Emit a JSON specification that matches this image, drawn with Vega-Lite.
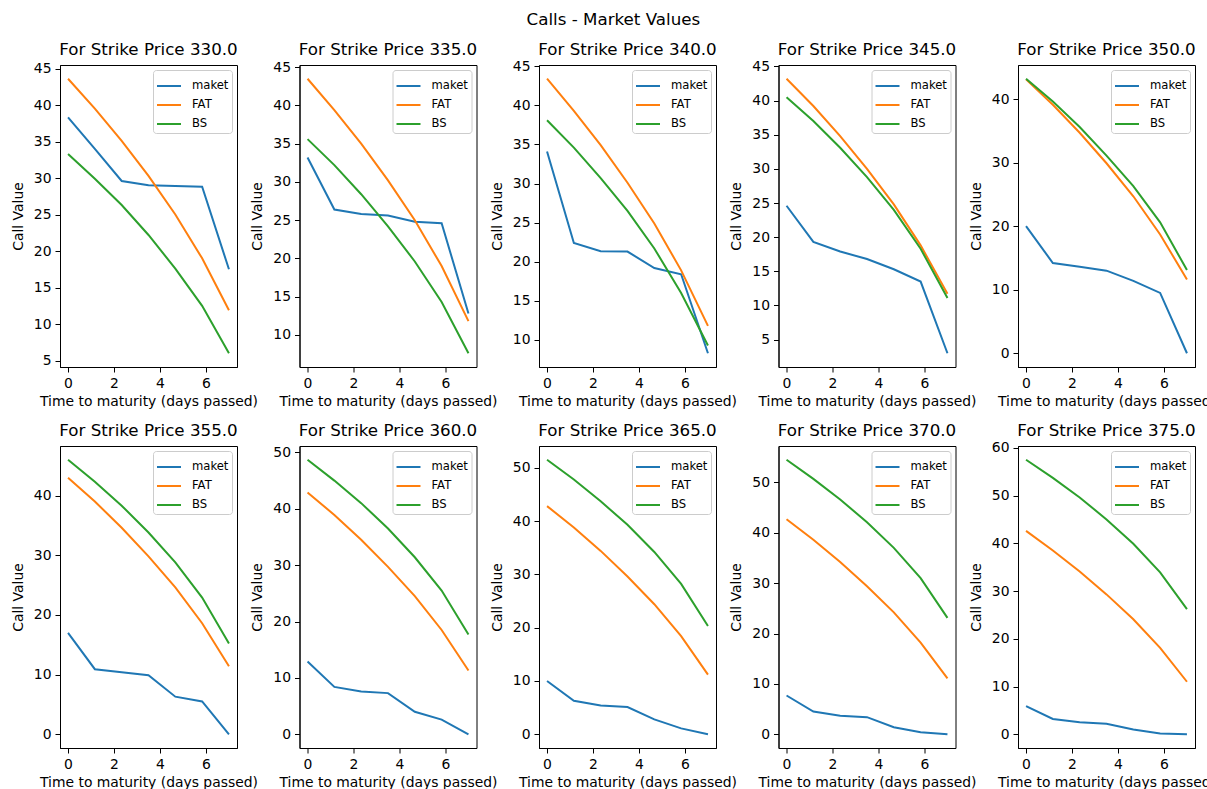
{
  "$schema": "https://vega.github.io/schema/vega-lite/v6.json",
  "padding": {"left": 10, "top": 12, "right": 5, "bottom": 5},
  "background": "white",
  "title": {"text": "Calls - Market Values", "fontSize": 16.7, "font": "DejaVu Sans", "fontWeight": "normal", "color": "black", "anchor": "middle", "offset": 13, "frame": "bounds"},
  "columns": 5,
  "spacing": {"row": 79, "column": 62.5},
  "bounds": "flush",
  "resolve": {"legend": {"color": "independent"}, "scale": {"y": "independent", "x": "independent"}},
  "config": {
    "font": "DejaVu Sans",
    "view": {"stroke": "black", "strokeWidth": 1},
    "title": {"font": "DejaVu Sans", "fontSize": 16.7, "fontWeight": "normal", "color": "black", "offset": 6, "frame": "group"},
    "axis": {"grid": false, "domainColor": "black", "tickColor": "black", "tickSize": 5, "labelFont": "DejaVu Sans", "labelFontSize": 13.9, "labelColor": "black", "titleFont": "DejaVu Sans", "titleFontSize": 13.9, "titleFontWeight": "normal", "titleColor": "black", "labelPadding": 4, "titlePadding": 5, "labelFlush": false},
    "axisY": {"titlePadding": 8},
    "legend": {"orient": "top-right", "offset": 5, "fillColor": "white", "strokeColor": "#cccccc", "cornerRadius": 3, "padding": 3, "labelFont": "DejaVu Sans", "labelFontSize": 11.6, "labelColor": "black", "labelOffset": 10, "symbolType": "stroke", "symbolSize": 576, "symbolStrokeWidth": 2, "rowPadding": 0}
  },
  "datasets": {
    "calls": [
      {"k":330,"m":"maket","t":0,"v":38.3},{"k":330,"m":"maket","t":1.1667,"v":34.0},{"k":330,"m":"maket","t":2.3333,"v":29.6},{"k":330,"m":"maket","t":3.5,"v":29.0},{"k":330,"m":"maket","t":4.6667,"v":28.9},{"k":330,"m":"maket","t":5.8333,"v":28.8},{"k":330,"m":"maket","t":7,"v":17.5},
      {"k":330,"m":"FAT","t":0,"v":43.6},{"k":330,"m":"FAT","t":1.1667,"v":39.5},{"k":330,"m":"FAT","t":2.3333,"v":35.1},{"k":330,"m":"FAT","t":3.5,"v":30.3},{"k":330,"m":"FAT","t":4.6667,"v":25.0},{"k":330,"m":"FAT","t":5.8333,"v":19.0},{"k":330,"m":"FAT","t":7,"v":11.9},
      {"k":330,"m":"BS","t":0,"v":33.3},{"k":330,"m":"BS","t":1.1667,"v":29.9},{"k":330,"m":"BS","t":2.3333,"v":26.3},{"k":330,"m":"BS","t":3.5,"v":22.2},{"k":330,"m":"BS","t":4.6667,"v":17.6},{"k":330,"m":"BS","t":5.8333,"v":12.5},{"k":330,"m":"BS","t":7,"v":6.0},

      {"k":335,"m":"maket","t":0,"v":33.2},{"k":335,"m":"maket","t":1.1667,"v":26.4},{"k":335,"m":"maket","t":2.3333,"v":25.8},{"k":335,"m":"maket","t":3.5,"v":25.6},{"k":335,"m":"maket","t":4.6667,"v":24.8},{"k":335,"m":"maket","t":5.8333,"v":24.6},{"k":335,"m":"maket","t":7,"v":12.8},
      {"k":335,"m":"FAT","t":0,"v":43.5},{"k":335,"m":"FAT","t":1.1667,"v":39.4},{"k":335,"m":"FAT","t":2.3333,"v":35.0},{"k":335,"m":"FAT","t":3.5,"v":30.2},{"k":335,"m":"FAT","t":4.6667,"v":25.0},{"k":335,"m":"FAT","t":5.8333,"v":19.0},{"k":335,"m":"FAT","t":7,"v":11.8},
      {"k":335,"m":"BS","t":0,"v":35.6},{"k":335,"m":"BS","t":1.1667,"v":32.2},{"k":335,"m":"BS","t":2.3333,"v":28.4},{"k":335,"m":"BS","t":3.5,"v":24.2},{"k":335,"m":"BS","t":4.6667,"v":19.6},{"k":335,"m":"BS","t":5.8333,"v":14.3},{"k":335,"m":"BS","t":7,"v":7.6},

      {"k":340,"m":"maket","t":0,"v":34.1},{"k":340,"m":"maket","t":1.1667,"v":22.4},{"k":340,"m":"maket","t":2.3333,"v":21.35},{"k":340,"m":"maket","t":3.5,"v":21.3},{"k":340,"m":"maket","t":4.6667,"v":19.2},{"k":340,"m":"maket","t":5.8333,"v":18.4},{"k":340,"m":"maket","t":7,"v":8.3},
      {"k":340,"m":"FAT","t":0,"v":43.4},{"k":340,"m":"FAT","t":1.1667,"v":39.3},{"k":340,"m":"FAT","t":2.3333,"v":34.9},{"k":340,"m":"FAT","t":3.5,"v":30.1},{"k":340,"m":"FAT","t":4.6667,"v":24.9},{"k":340,"m":"FAT","t":5.8333,"v":18.9},{"k":340,"m":"FAT","t":7,"v":11.8},
      {"k":340,"m":"BS","t":0,"v":38.1},{"k":340,"m":"BS","t":1.1667,"v":34.6},{"k":340,"m":"BS","t":2.3333,"v":30.7},{"k":340,"m":"BS","t":3.5,"v":26.5},{"k":340,"m":"BS","t":4.6667,"v":21.7},{"k":340,"m":"BS","t":5.8333,"v":16.0},{"k":340,"m":"BS","t":7,"v":9.3},

      {"k":345,"m":"maket","t":0,"v":24.6},{"k":345,"m":"maket","t":1.1667,"v":19.3},{"k":345,"m":"maket","t":2.3333,"v":17.9},{"k":345,"m":"maket","t":3.5,"v":16.8},{"k":345,"m":"maket","t":4.6667,"v":15.3},{"k":345,"m":"maket","t":5.8333,"v":13.5},{"k":345,"m":"maket","t":7,"v":3.0},
      {"k":345,"m":"FAT","t":0,"v":43.2},{"k":345,"m":"FAT","t":1.1667,"v":39.2},{"k":345,"m":"FAT","t":2.3333,"v":34.8},{"k":345,"m":"FAT","t":3.5,"v":30.0},{"k":345,"m":"FAT","t":4.6667,"v":24.8},{"k":345,"m":"FAT","t":5.8333,"v":18.8},{"k":345,"m":"FAT","t":7,"v":11.7},
      {"k":345,"m":"BS","t":0,"v":40.5},{"k":345,"m":"BS","t":1.1667,"v":37.0},{"k":345,"m":"BS","t":2.3333,"v":33.1},{"k":345,"m":"BS","t":3.5,"v":28.8},{"k":345,"m":"BS","t":4.6667,"v":24.0},{"k":345,"m":"BS","t":5.8333,"v":18.3},{"k":345,"m":"BS","t":7,"v":11.1},

      {"k":350,"m":"maket","t":0,"v":20.0},{"k":350,"m":"maket","t":1.1667,"v":14.2},{"k":350,"m":"maket","t":2.3333,"v":13.6},{"k":350,"m":"maket","t":3.5,"v":13.0},{"k":350,"m":"maket","t":4.6667,"v":11.4},{"k":350,"m":"maket","t":5.8333,"v":9.5},{"k":350,"m":"maket","t":7,"v":0.0},
      {"k":350,"m":"FAT","t":0,"v":43.1},{"k":350,"m":"FAT","t":1.1667,"v":39.1},{"k":350,"m":"FAT","t":2.3333,"v":34.7},{"k":350,"m":"FAT","t":3.5,"v":29.9},{"k":350,"m":"FAT","t":4.6667,"v":24.7},{"k":350,"m":"FAT","t":5.8333,"v":18.7},{"k":350,"m":"FAT","t":7,"v":11.6},
      {"k":350,"m":"BS","t":0,"v":43.2},{"k":350,"m":"BS","t":1.1667,"v":39.6},{"k":350,"m":"BS","t":2.3333,"v":35.6},{"k":350,"m":"BS","t":3.5,"v":31.1},{"k":350,"m":"BS","t":4.6667,"v":26.3},{"k":350,"m":"BS","t":5.8333,"v":20.6},{"k":350,"m":"BS","t":7,"v":13.1},

      {"k":355,"m":"maket","t":0,"v":17.0},{"k":355,"m":"maket","t":1.1667,"v":10.9},{"k":355,"m":"maket","t":2.3333,"v":10.4},{"k":355,"m":"maket","t":3.5,"v":9.9},{"k":355,"m":"maket","t":4.6667,"v":6.3},{"k":355,"m":"maket","t":5.8333,"v":5.5},{"k":355,"m":"maket","t":7,"v":0.0},
      {"k":355,"m":"FAT","t":0,"v":43.0},{"k":355,"m":"FAT","t":1.1667,"v":39.0},{"k":355,"m":"FAT","t":2.3333,"v":34.6},{"k":355,"m":"FAT","t":3.5,"v":29.8},{"k":355,"m":"FAT","t":4.6667,"v":24.6},{"k":355,"m":"FAT","t":5.8333,"v":18.6},{"k":355,"m":"FAT","t":7,"v":11.4},
      {"k":355,"m":"BS","t":0,"v":46.0},{"k":355,"m":"BS","t":1.1667,"v":42.3},{"k":355,"m":"BS","t":2.3333,"v":38.3},{"k":355,"m":"BS","t":3.5,"v":33.8},{"k":355,"m":"BS","t":4.6667,"v":28.8},{"k":355,"m":"BS","t":5.8333,"v":22.9},{"k":355,"m":"BS","t":7,"v":15.2},

      {"k":360,"m":"maket","t":0,"v":12.9},{"k":360,"m":"maket","t":1.1667,"v":8.4},{"k":360,"m":"maket","t":2.3333,"v":7.6},{"k":360,"m":"maket","t":3.5,"v":7.3},{"k":360,"m":"maket","t":4.6667,"v":4.0},{"k":360,"m":"maket","t":5.8333,"v":2.6},{"k":360,"m":"maket","t":7,"v":0.0},
      {"k":360,"m":"FAT","t":0,"v":42.9},{"k":360,"m":"FAT","t":1.1667,"v":38.9},{"k":360,"m":"FAT","t":2.3333,"v":34.5},{"k":360,"m":"FAT","t":3.5,"v":29.7},{"k":360,"m":"FAT","t":4.6667,"v":24.5},{"k":360,"m":"FAT","t":5.8333,"v":18.5},{"k":360,"m":"FAT","t":7,"v":11.3},
      {"k":360,"m":"BS","t":0,"v":48.7},{"k":360,"m":"BS","t":1.1667,"v":45.0},{"k":360,"m":"BS","t":2.3333,"v":41.0},{"k":360,"m":"BS","t":3.5,"v":36.5},{"k":360,"m":"BS","t":4.6667,"v":31.4},{"k":360,"m":"BS","t":5.8333,"v":25.5},{"k":360,"m":"BS","t":7,"v":17.7},

      {"k":365,"m":"maket","t":0,"v":10.0},{"k":365,"m":"maket","t":1.1667,"v":6.3},{"k":365,"m":"maket","t":2.3333,"v":5.4},{"k":365,"m":"maket","t":3.5,"v":5.1},{"k":365,"m":"maket","t":4.6667,"v":2.8},{"k":365,"m":"maket","t":5.8333,"v":1.1},{"k":365,"m":"maket","t":7,"v":0.0},
      {"k":365,"m":"FAT","t":0,"v":42.8},{"k":365,"m":"FAT","t":1.1667,"v":38.8},{"k":365,"m":"FAT","t":2.3333,"v":34.4},{"k":365,"m":"FAT","t":3.5,"v":29.6},{"k":365,"m":"FAT","t":4.6667,"v":24.4},{"k":365,"m":"FAT","t":5.8333,"v":18.4},{"k":365,"m":"FAT","t":7,"v":11.2},
      {"k":365,"m":"BS","t":0,"v":51.5},{"k":365,"m":"BS","t":1.1667,"v":47.8},{"k":365,"m":"BS","t":2.3333,"v":43.7},{"k":365,"m":"BS","t":3.5,"v":39.3},{"k":365,"m":"BS","t":4.6667,"v":34.2},{"k":365,"m":"BS","t":5.8333,"v":28.2},{"k":365,"m":"BS","t":7,"v":20.3},

      {"k":370,"m":"maket","t":0,"v":7.7},{"k":370,"m":"maket","t":1.1667,"v":4.5},{"k":370,"m":"maket","t":2.3333,"v":3.7},{"k":370,"m":"maket","t":3.5,"v":3.4},{"k":370,"m":"maket","t":4.6667,"v":1.4},{"k":370,"m":"maket","t":5.8333,"v":0.4},{"k":370,"m":"maket","t":7,"v":0.0},
      {"k":370,"m":"FAT","t":0,"v":42.7},{"k":370,"m":"FAT","t":1.1667,"v":38.6},{"k":370,"m":"FAT","t":2.3333,"v":34.2},{"k":370,"m":"FAT","t":3.5,"v":29.4},{"k":370,"m":"FAT","t":4.6667,"v":24.2},{"k":370,"m":"FAT","t":5.8333,"v":18.2},{"k":370,"m":"FAT","t":7,"v":11.1},
      {"k":370,"m":"BS","t":0,"v":54.5},{"k":370,"m":"BS","t":1.1667,"v":50.7},{"k":370,"m":"BS","t":2.3333,"v":46.6},{"k":370,"m":"BS","t":3.5,"v":42.1},{"k":370,"m":"BS","t":4.6667,"v":37.0},{"k":370,"m":"BS","t":5.8333,"v":31.0},{"k":370,"m":"BS","t":7,"v":23.1},

      {"k":375,"m":"maket","t":0,"v":5.9},{"k":375,"m":"maket","t":1.1667,"v":3.2},{"k":375,"m":"maket","t":2.3333,"v":2.5},{"k":375,"m":"maket","t":3.5,"v":2.2},{"k":375,"m":"maket","t":4.6667,"v":1.0},{"k":375,"m":"maket","t":5.8333,"v":0.15},{"k":375,"m":"maket","t":7,"v":0.0},
      {"k":375,"m":"FAT","t":0,"v":42.6},{"k":375,"m":"FAT","t":1.1667,"v":38.5},{"k":375,"m":"FAT","t":2.3333,"v":34.1},{"k":375,"m":"FAT","t":3.5,"v":29.3},{"k":375,"m":"FAT","t":4.6667,"v":24.1},{"k":375,"m":"FAT","t":5.8333,"v":18.1},{"k":375,"m":"FAT","t":7,"v":11.0},
      {"k":375,"m":"BS","t":0,"v":57.5},{"k":375,"m":"BS","t":1.1667,"v":53.7},{"k":375,"m":"BS","t":2.3333,"v":49.6},{"k":375,"m":"BS","t":3.5,"v":45.0},{"k":375,"m":"BS","t":4.6667,"v":39.9},{"k":375,"m":"BS","t":5.8333,"v":33.9},{"k":375,"m":"BS","t":7,"v":26.2}
    ]
  },
  "concat": [
    {"data": {"name": "calls"}, "transform": [{"filter": "datum.k == 330"}], "title": {"text": "For Strike Price 330.0", "offset": 2.5}, "width": 177, "height": 302, "mark": {"type": "line", "strokeWidth": 2},
     "encoding": {"x": {"field": "t", "type": "quantitative", "scale": {"domain": [-0.35, 7.35], "nice": false, "zero": false}, "axis": {"values": [0, 2, 4, 6], "title": "Time to maturity (days passed)"}},
      "y": {"field": "v", "type": "quantitative", "scale": {"domain": [4.12, 45.48], "nice": false, "zero": false}, "axis": {"values": [5, 10, 15, 20, 25, 30, 35, 40, 45], "title": "Call Value"}},
      "color": {"field": "m", "type": "nominal", "scale": {"domain": ["maket", "FAT", "BS"], "range": ["#1f77b4", "#ff7f0e", "#2ca02c"]}, "legend": {"title": null}}}},
    {"data": {"name": "calls"}, "transform": [{"filter": "datum.k == 335"}], "title": {"text": "For Strike Price 335.0", "offset": 1.3}, "width": 177, "height": 302, "mark": {"type": "line", "strokeWidth": 2},
     "encoding": {"x": {"field": "t", "type": "quantitative", "scale": {"domain": [-0.35, 7.35], "nice": false, "zero": false}, "axis": {"values": [0, 2, 4, 6], "title": "Time to maturity (days passed)"}},
      "y": {"field": "v", "type": "quantitative", "scale": {"domain": [5.805, 45.295], "nice": false, "zero": false}, "axis": {"values": [10, 15, 20, 25, 30, 35, 40, 45], "title": "Call Value"}},
      "color": {"field": "m", "type": "nominal", "scale": {"domain": ["maket", "FAT", "BS"], "range": ["#1f77b4", "#ff7f0e", "#2ca02c"]}, "legend": {"title": null}}}},
    {"data": {"name": "calls"}, "transform": [{"filter": "datum.k == 340"}], "title": {"text": "For Strike Price 340.0", "offset": 0.2}, "width": 177, "height": 302, "mark": {"type": "line", "strokeWidth": 2},
     "encoding": {"x": {"field": "t", "type": "quantitative", "scale": {"domain": [-0.35, 7.35], "nice": false, "zero": false}, "axis": {"values": [0, 2, 4, 6], "title": "Time to maturity (days passed)"}},
      "y": {"field": "v", "type": "quantitative", "scale": {"domain": [6.545, 45.155], "nice": false, "zero": false}, "axis": {"values": [10, 15, 20, 25, 30, 35, 40, 45], "title": "Call Value"}},
      "color": {"field": "m", "type": "nominal", "scale": {"domain": ["maket", "FAT", "BS"], "range": ["#1f77b4", "#ff7f0e", "#2ca02c"]}, "legend": {"title": null}}}},
    {"data": {"name": "calls"}, "transform": [{"filter": "datum.k == 345"}], "title": {"text": "For Strike Price 345.0", "offset": 0.4}, "width": 177, "height": 302, "mark": {"type": "line", "strokeWidth": 2},
     "encoding": {"x": {"field": "t", "type": "quantitative", "scale": {"domain": [-0.35, 7.35], "nice": false, "zero": false}, "axis": {"values": [0, 2, 4, 6], "title": "Time to maturity (days passed)"}},
      "y": {"field": "v", "type": "quantitative", "scale": {"domain": [0.99, 45.21], "nice": false, "zero": false}, "axis": {"values": [5, 10, 15, 20, 25, 30, 35, 40, 45], "title": "Call Value"}},
      "color": {"field": "m", "type": "nominal", "scale": {"domain": ["maket", "FAT", "BS"], "range": ["#1f77b4", "#ff7f0e", "#2ca02c"]}, "legend": {"title": null}}}},
    {"data": {"name": "calls"}, "transform": [{"filter": "datum.k == 350"}], "title": {"text": "For Strike Price 350.0", "offset": 6}, "width": 177, "height": 302, "mark": {"type": "line", "strokeWidth": 2},
     "encoding": {"x": {"field": "t", "type": "quantitative", "scale": {"domain": [-0.35, 7.35], "nice": false, "zero": false}, "axis": {"values": [0, 2, 4, 6], "title": "Time to maturity (days passed)"}},
      "y": {"field": "v", "type": "quantitative", "scale": {"domain": [-2.16, 45.36], "nice": false, "zero": false}, "axis": {"values": [0, 10, 20, 30, 40], "title": "Call Value"}},
      "color": {"field": "m", "type": "nominal", "scale": {"domain": ["maket", "FAT", "BS"], "range": ["#1f77b4", "#ff7f0e", "#2ca02c"]}, "legend": {"title": null}}}},
    {"data": {"name": "calls"}, "transform": [{"filter": "datum.k == 355"}], "title": {"text": "For Strike Price 355.0", "offset": 6}, "width": 177, "height": 302, "mark": {"type": "line", "strokeWidth": 2},
     "encoding": {"x": {"field": "t", "type": "quantitative", "scale": {"domain": [-0.35, 7.35], "nice": false, "zero": false}, "axis": {"values": [0, 2, 4, 6], "title": "Time to maturity (days passed)"}},
      "y": {"field": "v", "type": "quantitative", "scale": {"domain": [-2.3, 48.3], "nice": false, "zero": false}, "axis": {"values": [0, 10, 20, 30, 40], "title": "Call Value"}},
      "color": {"field": "m", "type": "nominal", "scale": {"domain": ["maket", "FAT", "BS"], "range": ["#1f77b4", "#ff7f0e", "#2ca02c"]}, "legend": {"title": null}}}},
    {"data": {"name": "calls"}, "transform": [{"filter": "datum.k == 360"}], "title": {"text": "For Strike Price 360.0", "offset": 5.4}, "width": 177, "height": 302, "mark": {"type": "line", "strokeWidth": 2},
     "encoding": {"x": {"field": "t", "type": "quantitative", "scale": {"domain": [-0.35, 7.35], "nice": false, "zero": false}, "axis": {"values": [0, 2, 4, 6], "title": "Time to maturity (days passed)"}},
      "y": {"field": "v", "type": "quantitative", "scale": {"domain": [-2.435, 51.135], "nice": false, "zero": false}, "axis": {"values": [0, 10, 20, 30, 40, 50], "title": "Call Value"}},
      "color": {"field": "m", "type": "nominal", "scale": {"domain": ["maket", "FAT", "BS"], "range": ["#1f77b4", "#ff7f0e", "#2ca02c"]}, "legend": {"title": null}}}},
    {"data": {"name": "calls"}, "transform": [{"filter": "datum.k == 365"}], "title": {"text": "For Strike Price 365.0", "offset": 6}, "width": 177, "height": 302, "mark": {"type": "line", "strokeWidth": 2},
     "encoding": {"x": {"field": "t", "type": "quantitative", "scale": {"domain": [-0.35, 7.35], "nice": false, "zero": false}, "axis": {"values": [0, 2, 4, 6], "title": "Time to maturity (days passed)"}},
      "y": {"field": "v", "type": "quantitative", "scale": {"domain": [-2.575, 54.075], "nice": false, "zero": false}, "axis": {"values": [0, 10, 20, 30, 40, 50], "title": "Call Value"}},
      "color": {"field": "m", "type": "nominal", "scale": {"domain": ["maket", "FAT", "BS"], "range": ["#1f77b4", "#ff7f0e", "#2ca02c"]}, "legend": {"title": null}}}},
    {"data": {"name": "calls"}, "transform": [{"filter": "datum.k == 370"}], "title": {"text": "For Strike Price 370.0", "offset": 6}, "width": 177, "height": 302, "mark": {"type": "line", "strokeWidth": 2},
     "encoding": {"x": {"field": "t", "type": "quantitative", "scale": {"domain": [-0.35, 7.35], "nice": false, "zero": false}, "axis": {"values": [0, 2, 4, 6], "title": "Time to maturity (days passed)"}},
      "y": {"field": "v", "type": "quantitative", "scale": {"domain": [-2.725, 57.225], "nice": false, "zero": false}, "axis": {"values": [0, 10, 20, 30, 40, 50], "title": "Call Value"}},
      "color": {"field": "m", "type": "nominal", "scale": {"domain": ["maket", "FAT", "BS"], "range": ["#1f77b4", "#ff7f0e", "#2ca02c"]}, "legend": {"title": null}}}},
    {"data": {"name": "calls"}, "transform": [{"filter": "datum.k == 375"}], "title": {"text": "For Strike Price 375.0", "offset": 0.8}, "width": 177, "height": 302, "mark": {"type": "line", "strokeWidth": 2},
     "encoding": {"x": {"field": "t", "type": "quantitative", "scale": {"domain": [-0.35, 7.35], "nice": false, "zero": false}, "axis": {"values": [0, 2, 4, 6], "title": "Time to maturity (days passed)"}},
      "y": {"field": "v", "type": "quantitative", "scale": {"domain": [-2.875, 60.375], "nice": false, "zero": false}, "axis": {"values": [0, 10, 20, 30, 40, 50, 60], "title": "Call Value"}},
      "color": {"field": "m", "type": "nominal", "scale": {"domain": ["maket", "FAT", "BS"], "range": ["#1f77b4", "#ff7f0e", "#2ca02c"]}, "legend": {"title": null}}}}
  ]
}
